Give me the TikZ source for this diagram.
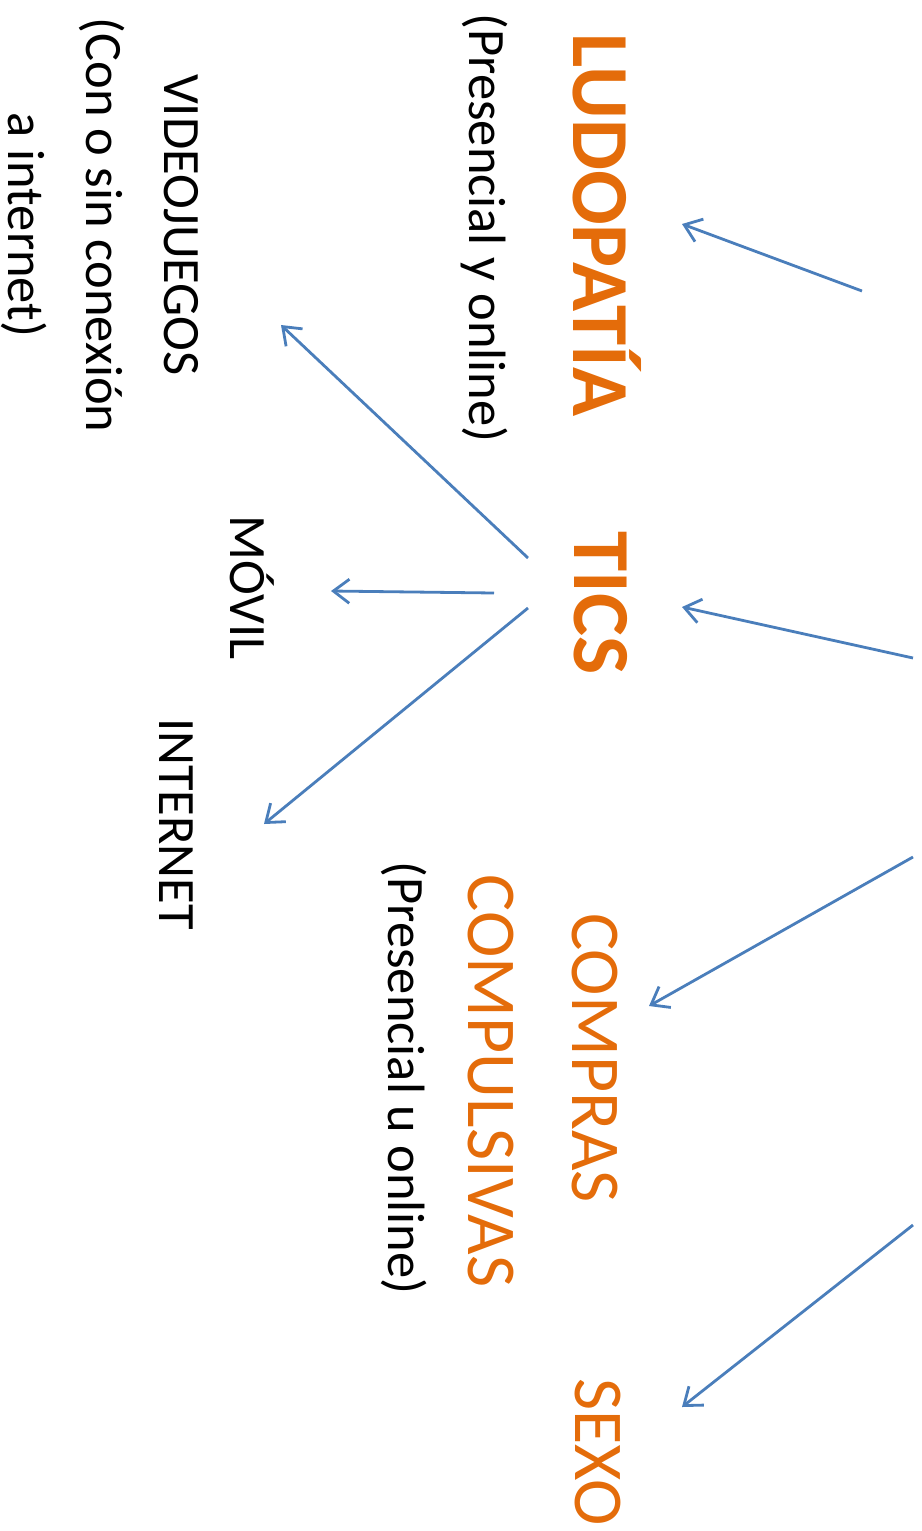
\documentclass[tikz,border=0pt]{standalone}
\usepackage{fontspec}
\setmainfont{Carlito}
\usetikzlibrary{arrows.meta}
\definecolor{lineblue}{HTML}{4A7EBB}
\definecolor{accorange}{HTML}{E46C0A}
\tikzset{
  lbl/.style={rotate=-90, inner sep=0pt, anchor=center, align=center},
  big/.style={lbl, text=accorange, font=\fontsize{81}{95}\selectfont\bfseries},
  cat/.style={lbl, text=accorange, font=\fontsize{70}{84}\selectfont},
  sub/.style={lbl, text=black, font=\fontsize{52.5}{78}\selectfont},
  conn/.style={draw=lineblue, line width=2.8pt, -{Straight Barb[length=16pt,width=24pt]}}
}
\begin{document}
\begin{tikzpicture}[x=1pt,y=-1pt]
\useasboundingbox (0,0) rectangle (921,1531);
\node[big] (ludo) at (607,225) {LUDOPATÍA};
\node[sub] (ludosub) at (484,228) {(Presencial y online)};
\node[sub] (video) at (100,225) {VIDEOJUEGOS\\(Con o sin conexión\\a internet)};
\node[big] (tics) at (601,603) {TICS};
\node[sub] (movil) at (252,588) {MÓVIL};
\node[sub] (internet) at (176,824) {INTERNET};
\node[cat] (compras) at (595,1058) {COMPRAS};
\node[cat] (compulsivas) at (491,1081) {COMPULSIVAS};
\node[sub] (comprsub) at (404,1078) {(Presencial u online)};
\node[cat] (sexo) at (598,1452) {SEXO};
\coordinate (r1) at (862,291);
\coordinate (r2) at (913,658);
\coordinate (r3) at (913,857);
\coordinate (r4) at (913,1225);
\coordinate (h1) at (682,224);
\coordinate (h2) at (682,607);
\coordinate (h3) at (649,1006);
\coordinate (h4) at (682,1407);
\coordinate (t1) at (528,558);
\coordinate (t2) at (494,593);
\coordinate (t3) at (528,608);
\coordinate (v1) at (281,325);
\coordinate (v2) at (331,591);
\coordinate (v3) at (264,824);
\draw[conn] (r1) -- (h1);
\draw[conn] (r2) -- (h2);
\draw[conn] (r3) -- (h3);
\draw[conn] (r4) -- (h4);
\draw[conn] (t1) -- (v1);
\draw[conn] (t2) -- (v2);
\draw[conn] (t3) -- (v3);
\end{tikzpicture}
\end{document}
